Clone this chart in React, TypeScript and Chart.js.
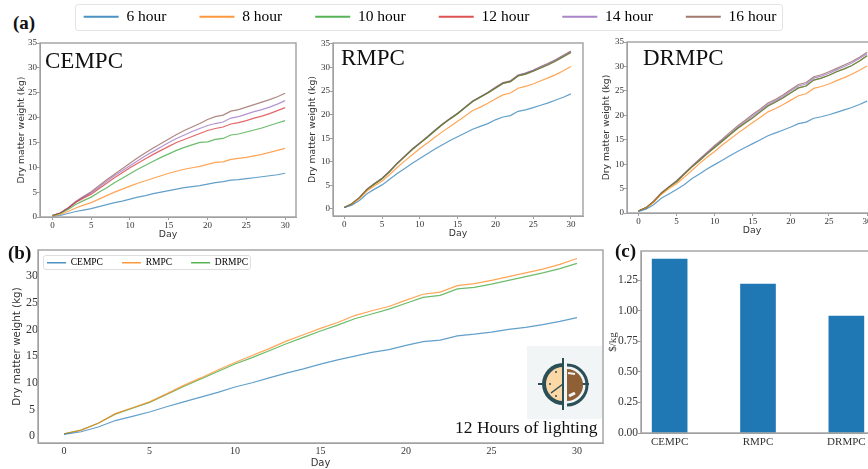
import React, { useEffect, useRef } from "react";
import { Chart, registerables } from "chart.js";

Chart.register(...registerables);

const days = [0,1,2,3,4,5,6,7,8,9,10,11,12,13,14,15,16,17,18,19,20,21,22,23,24,25,26,27,28,29,30];
const hourLabels = ["6 hour", "8 hour", "10 hour", "12 hour", "14 hour", "16 hour"];
const methodLabels = ["CEMPC", "RMPC", "DRMPC"];
const tab = ["#1f77b4", "#ff7f0e", "#2ca02c", "#d62728", "#9467bd", "#8c564b"];

const cempc6 = [0.1,0.3,0.7,1.1,1.4,1.7,2.1,2.5,2.9,3.2,3.6,4,4.3,4.7,5,5.3,5.6,5.9,6.1,6.3,6.6,6.9,7.1,7.4,7.5,7.7,7.9,8.1,8.3,8.5,8.8];
const cempc8 = [0.2,0.5,1.1,1.8,2.4,2.9,3.6,4.3,5,5.6,6.2,6.8,7.3,7.8,8.3,8.8,9.2,9.6,9.9,10.2,10.6,11,11.1,11.6,11.8,12,12.3,12.6,13,13.4,13.8];
const cempc10 = [0.3,0.7,1.5,2.5,3.3,4,5,5.9,6.9,7.8,8.7,9.6,10.4,11.2,12,12.7,13.4,14,14.5,15,15.1,15.6,15.8,16.5,16.7,17.1,17.5,17.9,18.4,18.9,19.4];
const cempc12 = [0.3,0.8,1.7,2.9,3.8,4.6,5.7,6.8,7.9,8.9,9.9,10.8,11.7,12.6,13.4,14.2,15,15.6,16.2,16.8,17.4,17.8,18.1,18.7,19,19.4,19.9,20.3,20.8,21.4,22];
const cempc14 = [0.3,0.8,1.8,3,4,4.9,6,7.2,8.3,9.3,10.3,11.3,12.3,13.2,14.1,15,15.8,16.5,17.2,17.8,18.4,18.8,19.1,19.9,20.2,20.7,21.2,21.6,22.1,22.7,23.4];
const cempc16 = [0.3,0.8,1.8,3.1,4.1,5.1,6.3,7.5,8.6,9.7,10.8,11.9,12.9,13.9,14.8,15.7,16.6,17.4,18.1,18.8,19.6,20.2,20.5,21.3,21.6,22.1,22.6,23.1,23.6,24.2,24.9];

const rmpc6 = [0.3,0.8,1.8,3.2,4.2,5.1,6.3,7.5,8.6,9.7,10.7,11.7,12.7,13.6,14.5,15.3,16.1,16.9,17.5,18.1,18.9,19.5,19.8,20.7,21,21.5,22,22.5,23.1,23.7,24.4];
const rmpc8 = [0.3,1,2.2,3.8,4.9,5.9,7.3,8.8,10.2,11.5,12.8,14,15.2,16.4,17.5,18.6,19.7,20.9,21.6,22.4,23.3,24.2,24.6,25.6,26,26.5,27.2,27.8,28.5,29.3,30.2];
const rmpc10 = [0.3,1.1,2.4,4.1,5.3,6.4,7.9,9.6,11.1,12.6,13.9,15.2,16.6,17.9,19.1,20.2,21.5,22.8,23.7,24.6,25.6,26.6,27,28.2,28.6,29.2,29.9,30.6,31.4,32.3,33.2];
const rmpc12 = [0.3,1.1,2.4,4.1,5.3,6.4,7.9,9.6,11.1,12.6,13.9,15.2,16.6,17.9,19.1,20.2,21.5,22.8,23.7,24.6,25.6,26.6,27,28.2,28.6,29.2,29.9,30.6,31.4,32.3,33.2];
const rmpc14 = [0.3,1.1,2.4,4.2,5.4,6.5,8,9.7,11.2,12.7,14,15.3,16.7,18,19.2,20.3,21.6,22.9,23.8,24.7,25.7,26.7,27.1,28.3,28.8,29.4,30.1,30.8,31.6,32.5,33.4];
const rmpc16 = [0.3,1.1,2.4,4.2,5.4,6.5,8,9.7,11.2,12.7,14,15.3,16.7,18,19.2,20.3,21.6,22.9,23.8,24.7,25.8,26.8,27.2,28.4,28.8,29.4,30.2,30.9,31.7,32.6,33.5];

const drmpc6 = [0.3,0.8,1.7,3,3.9,4.8,5.8,7,8,9,9.9,10.8,11.7,12.6,13.4,14.2,15,15.8,16.4,17,17.6,18.3,18.6,19.4,19.7,20.1,20.6,21.1,21.6,22.2,22.9];
const drmpc8 = [0.4,1,2.2,3.8,5,6,7.3,8.7,10.1,11.4,12.6,13.9,15.1,16.3,17.4,18.5,19.6,20.7,21.4,22.2,23.1,24,24.4,25.5,25.9,26.4,27.1,27.7,28.4,29.2,30.1];
const drmpc10 = [0.4,1.1,2.3,4,5.3,6.4,7.9,9.4,10.7,12.1,13.4,14.7,16,17.3,18.4,19.5,20.7,21.9,22.7,23.6,24.6,25.6,26,27.2,27.6,28.2,28.9,29.5,30.2,31.1,32.2];
const drmpc12 = [0.4,1.1,2.3,4,5.3,6.4,7.9,9.4,10.7,12.1,13.4,14.7,16,17.3,18.4,19.5,20.7,21.9,22.7,23.6,24.6,25.6,26,27.2,27.6,28.2,28.9,29.5,30.2,31.1,32.2];
const drmpc14 = [0.4,1.1,2.4,4.1,5.3,6.5,8,9.5,10.9,12.3,13.6,14.9,16.2,17.5,18.7,19.9,21,22.2,23,23.9,25,26,26.4,27.6,28,28.6,29.3,30,30.7,31.6,32.6];
const drmpc16 = [0.4,1.1,2.4,4.1,5.4,6.6,8.1,9.6,11,12.4,13.8,15.1,16.5,17.8,19,20.2,21.3,22.5,23.3,24.2,25.3,26.3,26.7,27.9,28.3,28.9,29.6,30.3,31,31.9,32.9];

const lit12Cempc = [0.3,0.8,1.7,2.9,3.7,4.5,5.5,6.4,7.3,8.2,9.2,10,10.9,11.8,12.6,13.5,14.3,15,15.7,16.2,17,17.7,18,18.8,19.1,19.5,20,20.4,20.9,21.5,22.2];
const lit12Rmpc = [0.4,1.1,2.4,4.2,5.3,6.4,7.9,9.5,10.9,12.4,13.8,15.1,16.4,17.8,19,20.2,21.3,22.6,23.5,24.3,25.5,26.6,27,28.2,28.6,29.2,29.9,30.6,31.3,32.2,33.3];
const lit12Drmpc = [0.4,1.1,2.4,4.1,5.2,6.3,7.8,9.3,10.7,12.1,13.5,14.7,16,17.3,18.5,19.7,20.8,22,22.9,23.8,24.9,26,26.4,27.6,27.9,28.5,29.2,29.9,30.6,31.4,32.4];

const costValues = [1.42, 1.217, 0.956];

const dayTicks = [0, 5, 10, 15, 20, 25, 30];
const weightTicks = [0, 5, 10, 15, 20, 25, 30, 35];
const weightTicksB = [0, 5, 10, 15, 20, 25, 30];
const costTicks = [0, 0.25, 0.5, 0.75, 1, 1.25];
const barTicks = [0, 1, 2];

const SERIF = "'Liberation Serif', serif";
const SANS = "'DejaVu Sans', sans-serif";
const FRAME = "#a0a0a0";

const framePlugin = {
  id: "frame",
  afterDraw(chart: any) {
    const { ctx, chartArea: a } = chart;
    ctx.save();
    ctx.strokeStyle = FRAME;
    ctx.lineWidth = 1.4;
    ctx.strokeRect(a.left, a.top, a.right - a.left, a.bottom - a.top);
    ctx.restore();
  },
};

function scaleOpts(o: any) {
  return {
    type: "linear",
    min: o.min,
    max: o.max,
    offset: false,
    grid: { drawOnChartArea: false, drawTicks: o.tickLen !== 0, tickLength: o.tickLen ?? 3, color: FRAME, offset: false },
    border: { color: FRAME, width: 1 },
    afterBuildTicks: (s: any) => { s.ticks = o.ticks.map((v: number) => ({ value: v })); },
    afterFit: (s: any) => { if (o.w !== undefined) s.width = o.w; if (o.h !== undefined) s.height = o.h; },
    ticks: {
      autoSkip: false, maxRotation: 0, padding: o.pad ?? 0, color: "#333",
      crossAlign: o.cross ?? "near",
      font: { family: SERIF, size: o.tickSize },
      callback: o.format ?? ((v: number) => String(v)),
    },
    title: o.title
      ? { display: true, text: o.title, color: "#333", padding: 0, font: { family: o.titleFont ?? SANS, size: o.titleSize } }
      : { display: false },
  };
}

function PlotChart(p: any) {
  const ref = useRef<HTMLCanvasElement>(null);
  const left = p.titleX - 6;
  const padL = p.L - left;
  const padB = p.xTitleY + 6 - p.B;
  const top = p.T - 8;
  const width = p.R + 8 - left;
  const height = p.B + padB - top;
  useEffect(() => {
    const chart = new Chart(ref.current!, {
      type: p.type ?? "line",
      data: p.data,
      options: {
        animation: false,
        responsive: false,
        layout: { autoPadding: false, padding: { left: 0, top: 8, right: 8, bottom: 0 } },
        plugins: { legend: { display: false }, tooltip: { enabled: false }, title: { display: false } },
        elements: { point: { radius: 0 }, line: { borderWidth: p.lw ?? 1.2, tension: 0 } },
        scales: {
          x: scaleOpts({ ...p.x, h: padB }),
          y: scaleOpts({ ...p.y, w: padL }),
        },
      } as any,
      plugins: [framePlugin],
    });
    return () => chart.destroy();
  }, []);
  return <canvas ref={ref} width={width} height={height} style={{ position: "absolute", left, top, width, height }} />;
}

function LegendChart(p: any) {
  const ref = useRef<HTMLCanvasElement>(null);
  const canvasH = 2 * p.padding + 2 * p.size + 4;
  const canvasTop = p.height / 2 - p.padding - 0.6 * p.size;
  const canvasLeft = p.offsetX ?? 0;
  const canvasW = p.width + 2 * Math.abs(canvasLeft);
  useEffect(() => {
    const chart = new Chart(ref.current!, {
      type: "line",
      data: {
        labels: [],
        datasets: p.labels.map((label: string, i: number) => ({
          label, data: [], borderColor: tab[i], backgroundColor: tab[i],
        })),
      },
      options: {
        animation: false,
        responsive: false,
        layout: { autoPadding: false, padding: 0 },
        scales: { x: { display: false }, y: { display: false } },
        plugins: {
          tooltip: { enabled: false },
          legend: {
            display: true, position: "top", align: p.align ?? "center",
            labels: {
              boxWidth: p.boxWidth, boxHeight: p.barH ?? 2, padding: p.padding, color: "#222",
              font: { family: SERIF, size: p.size },
              generateLabels: (c: any) =>
                c.data.datasets.map((d: any, i: number) => ({
                  text: d.label, fillStyle: tab[i] + "cc", strokeStyle: tab[i] + "cc", lineWidth: 0, datasetIndex: i,
                })),
            },
          },
        },
      } as any,
    });
    return () => chart.destroy();
  }, []);
  return (
    <div style={{
      position: "absolute", left: p.left, top: p.top, width: p.width, height: p.height,
      border: `1px solid ${p.edge}`, borderRadius: 3, boxSizing: "border-box", background: "#fff",
    }}>
      <canvas ref={ref} width={canvasW} height={canvasH} style={{ position: "absolute", left: canvasLeft, top: canvasTop }} />
    </div>
  );
}

function Note(p: any) {
  return (
    <div style={{
      position: "absolute", left: p.x, top: p.y, fontFamily: SERIF, fontSize: p.size, lineHeight: 1,
      fontWeight: p.bold ? 700 : 400, color: "#111", whiteSpace: "nowrap",
    }}>{p.text}</div>
  );
}

function ClockIcon() {
  return (
    <svg width={75} height={73} viewBox="0 0 75 73" style={{ position: "absolute", left: 527, top: 346 }}>
      <rect width="75" height="73" fill="#f2f5f6" />
      <line x1="11" y1="38" x2="20" y2="38" stroke="#2b4f57" strokeWidth="2" />
      <line x1="54" y1="38" x2="62" y2="38" stroke="#2b4f57" strokeWidth="2" />
      <path d="M36 17 A21 21 0 0 0 36 59 Z" fill="#2b4f57" />
      <path d="M36 21 A17 17 0 0 0 36 55 Z" fill="#fbd8a5" />
      <path d="M40 19 A20 20 0 0 1 40 59" fill="none" stroke="#2b4f57" strokeWidth="3" />
      <path d="M40 23 A16 16 0 0 1 40 55 Z" fill="#8f5f36" />
      <line x1="36" y1="38" x2="24" y2="47" stroke="#2b4f57" strokeWidth="1.5" />
      <line x1="36" y1="12" x2="36" y2="64" stroke="#2b4f57" strokeWidth="2" />
      <circle cx="29" cy="26" r="1" fill="#2b4f57" />
      <circle cx="23" cy="38" r="1" fill="#2b4f57" />
      <circle cx="29" cy="50" r="1" fill="#2b4f57" />
      <path d="M41 27 L48 28" stroke="#f2f5f6" strokeWidth="2" />
      <path d="M42 50 L48 47" stroke="#f2f5f6" strokeWidth="3" />
    </svg>
  );
}

const hourSets = (sets: number[][]) => ({
  datasets: sets.map((values, i) => ({
    label: hourLabels[i],
    data: values.map((v, k) => ({ x: days[k], y: v })),
    borderColor: tab[i] + "b3",
  })),
});

const dayAxis = (tickSize: number, titleSize: number, min: number, max: number) => ({
  min, max, ticks: dayTicks, tickSize, title: "Day", titleSize,
});
const weightAxis = (tickSize: number, titleSize: number, min: number, max: number, ticks: number[]) => ({
  min, max, ticks, tickSize, title: "Dry matter weight (kg)", titleSize,
});

export default function App() {
  return (
    <div style={{ position: "fixed", left: 0, top: 0, width: 868, height: 469, overflow: "hidden", background: "#fff", filter: "blur(0.45px)" }}>
      <Note text="(a)" x={13} y={13} size={19} bold />

      <PlotChart L={40} R={296} T={43} B={217} titleX={22} xTitleY={234}
        data={hourSets([cempc6, cempc8, cempc10, cempc12, cempc14, cempc16])}
        x={dayAxis(9, 9.3, -1.6, 31.4)} y={weightAxis(9, 9.3, 0, 35, weightTicks)} />
      <Note text="CEMPC" x={45} y={49} size={23} />

      <PlotChart L={333} R={583} T={43} B={216} titleX={313} xTitleY={233}
        data={hourSets([rmpc6, rmpc8, rmpc10, rmpc12, rmpc14, rmpc16])}
        x={dayAxis(9, 9.3, -1.5, 31.6)} y={weightAxis(9, 9.3, -1.5, 35.2, weightTicks)} />
      <Note text="RMPC" x={341} y={46} size={23} />

      <PlotChart L={627} R={877} T={42} B={213} titleX={607} xTitleY={230}
        data={hourSets([drmpc6, drmpc8, drmpc10, drmpc12, drmpc14, drmpc16])}
        x={dayAxis(9, 9.3, -1.5, 31.3)} y={weightAxis(9, 9.2, 0, 35, weightTicks)} />
      <Note text="DRMPC" x={643} y={46} size={23} />

      <PlotChart L={38} R={603} T={250} B={443} titleX={17} xTitleY={463}
        data={{ datasets: [lit12Cempc, lit12Rmpc, lit12Drmpc].map((values, i) => ({
          label: methodLabels[i],
          data: values.map((v, k) => ({ x: days[k], y: v })),
          borderColor: tab[i] + "b3",
        })) }}
        x={{ ...dayAxis(10, 10, -1.52, 31.52), tickLen: 0, pad: 2 }}
        y={{ ...weightAxis(12, 10.3, -1.31, 34.9, weightTicksB), tickLen: 0, cross: "center" }} />
      <LegendChart left={43} top={255} width={208} height={15} edge="#dedede" labels={methodLabels}
        boxWidth={19} padding={19} size={9.5} align="start" offsetX={-16} barH={1.6} />
      <Note text="(b)" x={8} y={243} size={19} bold />
      <ClockIcon />
      <Note text="12 Hours of lighting" x={455} y={419} size={17.5} />

      <PlotChart L={641} R={875} T={251} B={433} titleX={613} xTitleY={452}
        type="bar"
        data={{ datasets: [{
          label: "$/kg",
          data: costValues.map((v, i) => ({ x: barTicks[i], y: v })),
          backgroundColor: "#1f77b4", barThickness: 35,
        }] }}
        x={{ min: -0.324, max: 2.324, ticks: barTicks, tickSize: 11, tickLen: 0, pad: 3, format: (v: number) => methodLabels[v] }}
        y={{ min: 0, max: 1.487, ticks: costTicks, tickSize: 11.5, title: "$/kg", titleSize: 11, titleFont: SERIF, format: (v: number) => v.toFixed(2) }} />
      <Note text="(c)" x={615} y={241} size={19} bold />

      <LegendChart left={75} top={4} width={708} height={27} edge="#e4e4e4" labels={hourLabels}
        boxWidth={35} padding={33} size={15.5} offsetX={-100} />
    </div>
  );
}
